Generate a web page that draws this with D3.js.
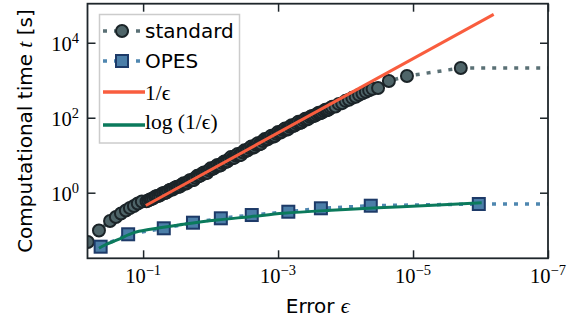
<!DOCTYPE html>
<html>
<head>
<meta charset="utf-8">
<script src="https://cdn.jsdelivr.net/npm/d3@7"></script>
<style>
  body { margin: 0; background: #fff; }
  svg { display: block; }
</style>
</head>
<body>
<div id="chart"></div>
<script>
// standard sampling: error reached vs wall time [s]
const stdErr = [
  0.66, 0.451, 0.309, 0.253, 0.213, 0.180, 0.157, 0.137, 0.120, 0.1045,
  8.91e-2, 8.41e-2, 7.94e-2, 7.50e-2, 7.08e-2, 6.68e-2, 6.31e-2, 5.96e-2, 5.62e-2, 5.31e-2,
  5.01e-2, 4.73e-2, 4.47e-2, 4.22e-2, 3.98e-2, 3.76e-2, 3.55e-2, 3.35e-2, 3.16e-2, 2.99e-2,
  2.82e-2, 2.66e-2, 2.51e-2, 2.37e-2, 2.24e-2, 2.11e-2, 2.00e-2, 1.88e-2, 1.78e-2, 1.68e-2,
  1.58e-2, 1.50e-2, 1.41e-2, 1.33e-2, 1.26e-2, 1.19e-2, 1.12e-2, 1.06e-2, 1.00e-2,
  9.44e-3, 8.91e-3, 8.41e-3, 7.94e-3, 7.50e-3, 7.08e-3, 6.68e-3, 6.31e-3, 5.96e-3, 5.62e-3,
  5.31e-3, 5.01e-3, 4.73e-3, 4.47e-3, 4.22e-3, 3.98e-3, 3.76e-3, 3.55e-3, 3.35e-3, 3.16e-3,
  2.99e-3, 2.82e-3, 2.66e-3, 2.51e-3, 2.37e-3, 2.24e-3, 2.11e-3, 2.00e-3, 1.88e-3, 1.78e-3,
  1.68e-3, 1.58e-3, 1.50e-3, 1.41e-3, 1.33e-3, 1.26e-3, 1.19e-3, 1.12e-3, 1.06e-3, 1.00e-3,
  9.44e-4, 8.91e-4, 8.41e-4, 7.94e-4, 7.50e-4, 7.08e-4, 6.68e-4, 6.31e-4, 5.96e-4, 5.62e-4,
  5.31e-4, 5.01e-4, 4.73e-4, 4.47e-4, 4.22e-4, 3.98e-4, 3.76e-4, 3.55e-4, 3.35e-4, 3.16e-4,
  2.99e-4, 2.82e-4, 2.66e-4, 2.51e-4, 2.37e-4, 2.24e-4, 2.11e-4, 2.00e-4, 1.88e-4, 1.78e-4,
  1.68e-4, 1.58e-4,
  1.41e-4, 1.26e-4, 1.12e-4, 1.00e-4, 8.91e-5, 7.94e-5, 7.08e-5, 6.31e-5, 5.62e-5, 5.01e-5,
  4.47e-5, 3.98e-5,
  3.3e-5, 2.28e-5, 1.23e-5, 1.96e-6
];
const stdTime = [
  0.0485, 0.098, 0.176, 0.225, 0.279, 0.335, 0.391, 0.442, 0.515, 0.583,
  0.589, 0.617, 0.661, 0.676, 0.708, 0.776, 0.813, 0.813, 0.851, 0.933,
  0.977, 0.977, 1.02, 1.12, 1.20, 1.20, 1.26, 1.38, 1.45, 1.41,
  1.48, 1.66, 1.78, 1.74, 1.82, 2.04, 2.19, 2.14, 2.19, 2.51,
  2.82, 2.75, 2.88, 3.24, 3.47, 3.31, 3.39, 3.98, 4.47,
  4.27, 4.47, 5.01, 5.50, 5.25, 5.37, 6.17, 6.76, 6.61, 6.92,
  7.94, 8.91, 8.32, 8.51, 9.77, 10.7, 10.0, 10.2, 12.0, 13.5,
  12.9, 13.5, 15.5, 17.0, 15.8, 16.6, 19.1, 20.9, 19.5, 20.4,
  24.0, 26.9, 25.7, 26.9, 30.2, 33.1, 30.9, 32.4, 37.2, 41.7,
  39.8, 41.7, 46.8, 51.3, 47.9, 50.1, 57.5, 63.1, 60.3, 63.1,
  70.8, 77.6, 72.4, 75.9, 85.1, 93.3, 89.1, 93.3, 105, 112,
  110, 115, 126, 135, 132, 138, 151, 162, 158, 166,
  182, 195,
  200, 234, 245, 282, 302, 339, 363, 407, 447, 490,
  537, 589,
  620, 953, 1294, 2115
];

// OPES
const opesErr = [0.426, 0.1666, 0.0494, 0.01824, 0.00705, 0.002455, 7.05e-4, 2.32e-4, 4.23e-5, 1.06e-6];
const opesTime = [0.0363, 0.0778, 0.1124, 0.1585, 0.2076, 0.254, 0.311, 0.384, 0.45, 0.5];

// reference scalings
const invErr = [0.0912, 6.38e-7];
const invTime = [0.456, 57000];
const logErr = [0.451, 0.368, 0.242, 0.137, 0.0778, 0.0251, 8.07e-3, 2.59e-3, 8.36e-4, 1.39e-4, 1.46e-5, 9.6e-7];
const logTime = [0.0329, 0.0403, 0.0548, 0.0858, 0.1057, 0.1436, 0.187, 0.229, 0.282, 0.346, 0.423, 0.541];

const xTickExp = [-1, -3, -5, -7];
const yTickExp = [0, 2, 4];
const errEnd = 1e-7; // dotted tails run out to the axis end

const w = 580, h = 323;
const pL = 87.5, pR = 548, pT = 3.7, pB = 258.3;
const frameColor = "#1e262b";
const stdLine = "#5a7075", stdFill = "#4f6569", stdEdge = "#1b2428";
const opesLine = "#4f87b0", opesFill = "#4b7ea8", opesEdge = "#1d3a68";
const red = "#f95d3e", green = "#0b7a5c";
const sans = "'DejaVu Sans', sans-serif", serif = "'Liberation Serif', serif";
const sansSize = 20;

const svg = d3.select("#chart").append("svg")
  .attr("width", w)
  .attr("height", h);

const x = d3.scaleLog().domain([0.667, errEnd]).range([pL, pR]);
const y = d3.scaleLog().domain([0.0178, 1.1e5]).range([pB, pT]);

svg.append("clipPath").attr("id", "clip")
  .append("rect")
  .attr("x", pL).attr("y", pT)
  .attr("width", pR - pL).attr("height", pB - pT);

const plot = svg.append("g").attr("clip-path", "url(#clip)");

const zip = (a, b) => a.map((v, i) => [v, b[i]]);
const std = zip(stdErr, stdTime);
const opes = zip(opesErr, opesTime);
const line = d3.line().x(d => x(d[0])).y(d => y(d[1]));

// standard: dotted line then circles
plot.append("path")
  .datum([...std, [errEnd, stdTime[stdTime.length - 1]]])
  .attr("d", line)
  .attr("fill", "none")
  .attr("stroke", stdLine)
  .attr("stroke-width", 3.5)
  .attr("stroke-dasharray", "4,7");
plot.selectAll("circle.std")
  .data(std)
  .enter()
  .append("circle")
  .classed("std", true)
  .attr("cx", d => x(d[0]))
  .attr("cy", d => y(d[1]))
  .attr("r", 6)
  .attr("fill", stdFill)
  .attr("stroke", stdEdge)
  .attr("stroke-width", 2);

// OPES: dotted line then squares
plot.append("path")
  .datum([...opes, [errEnd, opesTime[opesTime.length - 1]]])
  .attr("d", line)
  .attr("fill", "none")
  .attr("stroke", opesLine)
  .attr("stroke-width", 3.5)
  .attr("stroke-dasharray", "4,7");
const sq = 12;
plot.selectAll("rect.opes")
  .data(opes)
  .enter()
  .append("rect")
  .classed("opes", true)
  .attr("x", d => x(d[0]) - sq / 2)
  .attr("y", d => y(d[1]) - sq / 2)
  .attr("width", sq)
  .attr("height", sq)
  .attr("fill", opesFill)
  .attr("stroke", opesEdge)
  .attr("stroke-width", 2);

// 1/eps and log(1/eps)
plot.append("path")
  .datum(zip(invErr, invTime))
  .attr("d", line)
  .attr("fill", "none")
  .attr("stroke", red)
  .attr("stroke-width", 3);
plot.append("path")
  .datum(zip(logErr, logTime))
  .attr("d", d3.line().x(d => x(d[0])).y(d => y(d[1])).curve(d3.curveMonotoneX))
  .attr("fill", "none")
  .attr("stroke", green)
  .attr("stroke-width", 3);

// Axis ↓ (ticks point inward on all four sides)
const tickLen = 8;
const styleAxis = g => {
  g.select(".domain").remove();
  g.selectAll(".tick line").attr("stroke", frameColor).attr("stroke-width", 1.5);
  g.selectAll(".tick text").remove();
};
const xTicks = xTickExp.map(e => Math.pow(10, e));
const yTicks = yTickExp.map(e => Math.pow(10, e));
svg.append("g").attr("transform", `translate(0,${pB})`)
  .call(d3.axisBottom(x).tickValues(xTicks).tickSizeInner(-tickLen).tickSizeOuter(0)).call(styleAxis);
svg.append("g").attr("transform", `translate(0,${pT})`)
  .call(d3.axisTop(x).tickValues(xTicks).tickSizeInner(-tickLen).tickSizeOuter(0)).call(styleAxis);
svg.append("g").attr("transform", `translate(${pL},0)`)
  .call(d3.axisLeft(y).tickValues(yTicks).tickSizeInner(-tickLen).tickSizeOuter(0)).call(styleAxis);
svg.append("g").attr("transform", `translate(${pR},0)`)
  .call(d3.axisRight(y).tickValues(yTicks).tickSizeInner(-tickLen).tickSizeOuter(0)).call(styleAxis);

svg.append("rect")
  .attr("x", pL).attr("y", pT)
  .attr("width", pR - pL).attr("height", pB - pT)
  .attr("fill", "none")
  .attr("stroke", frameColor)
  .attr("stroke-width", 1.8);

const powLabel = (sel, exp) => {
  sel.append("tspan").text("10");
  sel.append("tspan")
    .attr("dy", -8)
    .attr("font-size", 14.5)
    .text(exp < 0 ? "\u2212" + (-exp) : String(exp));
};
xTickExp.forEach(e => {
  svg.append("text")
    .attr("x", x(Math.pow(10, e)))
    .attr("y", 283)
    .attr("text-anchor", "middle")
    .attr("font-family", serif)
    .attr("font-size", 20.5)
    .call(powLabel, e);
});
yTickExp.forEach(e => {
  svg.append("text")
    .attr("x", 79)
    .attr("y", y(Math.pow(10, e)) + 8)
    .attr("text-anchor", "end")
    .attr("font-family", serif)
    .attr("font-size", 20.5)
    .call(powLabel, e);
});
// Axis ↑

// axis titles
const xt = svg.append("text")
  .attr("x", (pL + pR) / 2)
  .attr("y", 313)
  .attr("text-anchor", "middle")
  .attr("font-family", sans)
  .attr("font-size", sansSize);
xt.append("tspan").text("Error ");
xt.append("tspan").attr("font-family", serif).attr("font-style", "italic").attr("font-size", 22).text("\u03f5");

const yt = svg.append("text")
  .attr("transform", `translate(32,${(pT + pB) / 2}) rotate(-90)`)
  .attr("text-anchor", "middle")
  .attr("font-family", sans)
  .attr("font-size", sansSize);
yt.append("tspan").text("Computational time ");
yt.append("tspan").attr("font-family", serif).attr("font-style", "italic").attr("font-size", 22).text("t");
yt.append("tspan").text(" [s]");

// legend
const lg = svg.append("g");
lg.append("rect")
  .attr("x", 99.5).attr("y", 14.5)
  .attr("width", 140).attr("height", 128.5)
  .attr("fill", "#fff")
  .attr("fill-opacity", 0.85)
  .attr("stroke", "#cccccc")
  .attr("stroke-width", 1.5);

const lx0 = 103, lx1 = 143, lxm = 123, ltx = 145;
const rows = [31, 61, 92, 125];

lg.append("line").attr("x1", lx0).attr("x2", lx1).attr("y1", rows[0]).attr("y2", rows[0])
  .attr("stroke", stdLine).attr("stroke-width", 3.5).attr("stroke-dasharray", "4,7");
lg.append("circle").attr("cx", lxm - 1).attr("cy", rows[0]).attr("r", 6)
  .attr("fill", stdFill).attr("stroke", stdEdge).attr("stroke-width", 2);
lg.append("text").attr("x", ltx).attr("y", rows[0] + 6.5)
  .attr("font-family", sans).attr("font-size", sansSize).text("standard");

lg.append("line").attr("x1", lx0).attr("x2", lx1).attr("y1", rows[1]).attr("y2", rows[1])
  .attr("stroke", opesLine).attr("stroke-width", 3.5).attr("stroke-dasharray", "4,7");
lg.append("rect").attr("x", lxm - 1 - sq / 2).attr("y", rows[1] - sq / 2).attr("width", sq).attr("height", sq)
  .attr("fill", opesFill).attr("stroke", opesEdge).attr("stroke-width", 2);
lg.append("text").attr("x", ltx).attr("y", rows[1] + 7)
  .attr("font-family", sans).attr("font-size", sansSize).text("OPES");

lg.append("line").attr("x1", lx0).attr("x2", lx1 + 2).attr("y1", rows[2]).attr("y2", rows[2])
  .attr("stroke", red).attr("stroke-width", 3.5);
lg.append("text").attr("x", ltx).attr("y", rows[2] + 8)
  .attr("font-family", serif).attr("font-size", 21.5).text("1/\u03f5");

lg.append("line").attr("x1", lx0).attr("x2", lx1 + 2).attr("y1", rows[3]).attr("y2", rows[3])
  .attr("stroke", green).attr("stroke-width", 3.5);
lg.append("text").attr("x", ltx).attr("y", rows[3] + 4)
  .attr("font-family", serif).attr("font-size", 21.5).text("log (1/\u03f5)");
</script>
</body>
</html>
